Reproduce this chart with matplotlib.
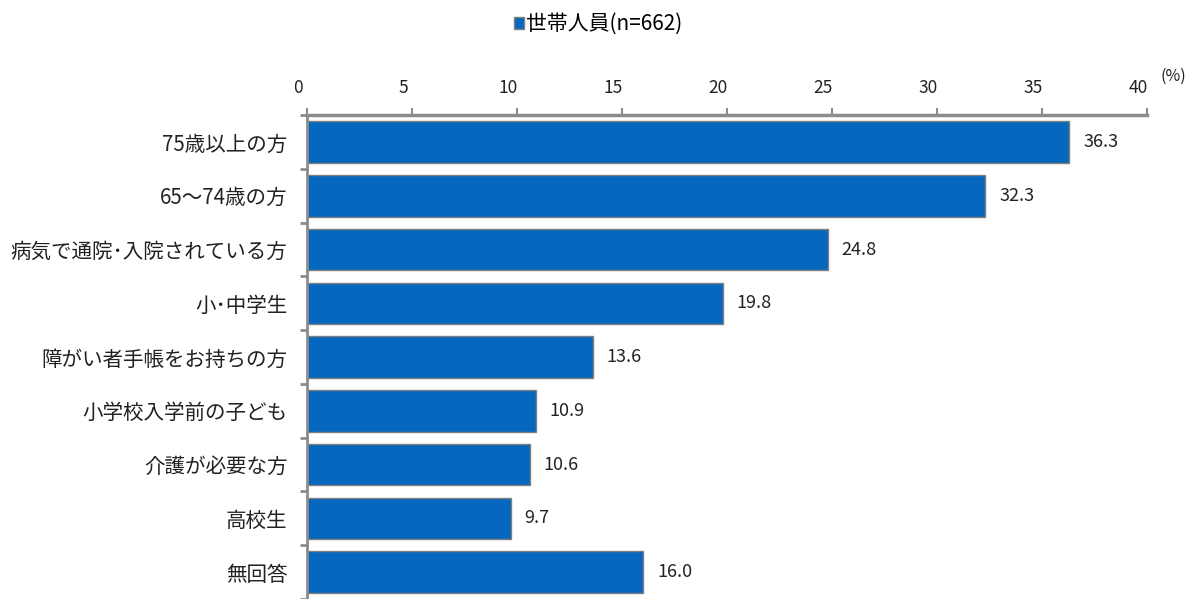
import numpy as np
import matplotlib.pyplot as plt
from matplotlib.transforms import ScaledTranslation

plt.rcParams['font.family'] = ['Noto Sans CJK JP', 'DejaVu Sans']

categories = ["75歳以上の方", "65～74歳の方", "病気で通院･入院されている方", "小･中学生",
              "障がい者手帳をお持ちの方", "小学校入学前の子ども", "介護が必要な方", "高校生", "無回答"]
values = [36.3, 32.3, 24.8, 19.8, 13.6, 10.9, 10.6, 9.7, 16.0]
series_name = "世帯人員(n=662)"
xticks = [0, 5, 10, 15, 20, 25, 30, 35, 40]

bar_color = "#0567BD"
axis_gray = "#8C8C8C"
text_color = "#222222"

fig = plt.figure(figsize=(11.91, 5.99), dpi=100)
ax = fig.add_axes([307 / 1191, 0, 840 / 1191, (599 - 115) / 599])

y = np.arange(len(categories))
bars = ax.barh(y, values, height=0.77, color=bar_color, edgecolor="#808080", linewidth=1.0)

for yi, v in zip(y, values):
    ax.annotate(f"{v:.1f}", (v, yi), xytext=(10, 0), textcoords="offset points",
                va="center", ha="left", fontsize=13, color=text_color)

# bottom row runs off the lower edge
ax.set_xlim(0, 40)
ax.set_ylim(8.36, -0.504)
ax.set_yticks(y)
ax.set_yticklabels(categories, fontsize=14.8, color=text_color)
ax.set_yticks(np.arange(len(categories) + 1) - 0.5, minor=True)
ax.tick_params(axis="y", which="major", length=0, pad=14)
ax.tick_params(axis="y", which="minor", length=5, width=2, color=axis_gray)

ax.xaxis.tick_top()
ax.set_xticks(xticks)
ax.set_xticklabels([str(t) for t in xticks], fontsize=12.5, color=text_color)
ax.tick_params(axis="x", length=5, width=1.5, color=axis_gray, pad=8)
shift = ScaledTranslation(-9 / 100, 0, fig.dpi_scale_trans)
for lbl in ax.get_xticklabels():
    lbl.set_transform(lbl.get_transform() + shift)

for side in ["right", "bottom"]:
    ax.spines[side].set_visible(False)
ax.spines["top"].set_color(axis_gray)
ax.spines["top"].set_linewidth(2.5)
ax.spines["left"].set_color(axis_gray)
ax.spines["left"].set_linewidth(2.0)

fig.text(1160 / 1191, 1 - 76 / 599, "(%)", fontsize=11.5, color=text_color, ha="left", va="center")

ax.legend([bars[0]], [series_name], loc="center", bbox_to_anchor=(598 / 1191, 1 - 24 / 599),
          bbox_transform=fig.transFigure, frameon=False, fontsize=15,
          handlelength=0.5, handleheight=0.5, handletextpad=0.1)

fig.savefig("out.png", dpi=100)
